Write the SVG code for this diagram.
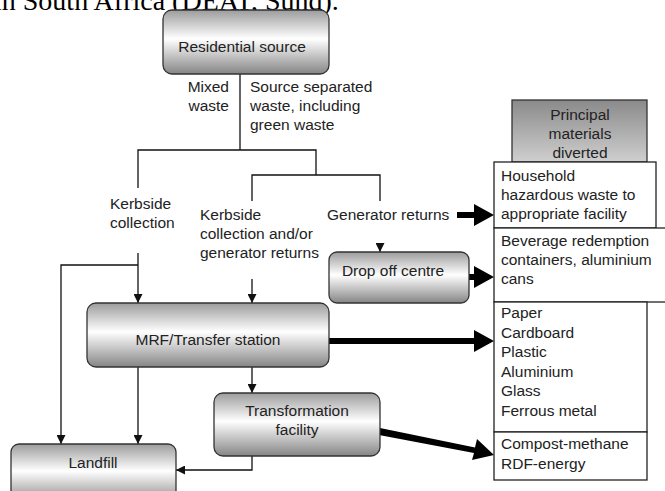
<svg xmlns="http://www.w3.org/2000/svg" width="665" height="491" viewBox="0 0 665 491">
<defs>
<linearGradient id="boxg" x1="0" y1="0" x2="0" y2="1">
<stop offset="0" stop-color="#9c9c9c"/>
<stop offset="0.45" stop-color="#ffffff"/>
<stop offset="1" stop-color="#858585"/>
</linearGradient>
<linearGradient id="headg" x1="0" y1="0" x2="0" y2="1">
<stop offset="0" stop-color="#8a8a8a"/>
<stop offset="1" stop-color="#cfcfcf"/>
</linearGradient>
<marker id="ah" viewBox="0 0 10 10" refX="10" refY="5" markerWidth="9" markerHeight="9" markerUnits="userSpaceOnUse" orient="auto">
<path d="M0,0 L10,5 L0,10 Z" fill="#111"/>
</marker>
</defs>
<style>
.box{fill:url(#boxg);stroke:#333;stroke-width:1.3}
.hbox{fill:url(#headg);stroke:#333;stroke-width:1.3}
.wbox{fill:#fff;stroke:#222;stroke-width:1.3}
.t{font-family:"Liberation Sans",Arial,sans-serif;font-size:15.5px;fill:#222}
.c{text-anchor:middle}
.ln{fill:none;stroke:#111;stroke-width:1.3}
.thick{fill:#000}
</style>
<text x="-6" y="10" font-family="'Liberation Serif','Times New Roman',serif" font-size="28" fill="#000">in South Africa (DEAT, Sund).</text>

<g id="connectors">
<polyline class="ln" points="240,74 240,150"/>
<polyline class="ln" points="138,188 138,150 316,150 316,175"/>
<polyline class="ln" points="252,201 252,175 380,175 380,201"/>
<line class="ln" x1="380" y1="243" x2="380" y2="252" marker-end="url(#ah)"/>
<line class="ln" x1="138" y1="253" x2="138" y2="303" marker-end="url(#ah)"/>
<polyline class="ln" points="138,265 61,265 61,444" marker-end="url(#ah)"/>
<line class="ln" x1="252" y1="279" x2="252" y2="303" marker-end="url(#ah)"/>
<line class="ln" x1="138" y1="367" x2="138" y2="444" marker-end="url(#ah)"/>
<line class="ln" x1="252" y1="367" x2="252" y2="393" marker-end="url(#ah)"/>
<polyline class="ln" points="252,456 252,470 176,470" marker-end="url(#ah)"/>
<polygon class="thick" points="457,212 474,212 474,204 494,215 474,226 474,218 457,218"/>
<polygon class="thick" points="469,274 474,274 474,266 494,277 474,288 474,280 469,280"/>
<polygon class="thick" points="329,338 474,338 474,330 494,341 474,352 474,344 329,344"/>
<polygon class="thick" points="380,428 475,447.5 477,439 494,455 472,460 474,453 379,435"/>
</g>

<g id="residential">
<rect class="box" x="163" y="10" width="166" height="64" rx="9"/>
<text class="t c" x="242" y="52">Residential source</text>
</g>
<g id="labels-top">
<text class="t" x="229" y="92" text-anchor="end">Mixed</text>
<text class="t" x="229" y="111" text-anchor="end">waste</text>
<text class="t" x="250" y="92">Source separated</text>
<text class="t" x="250" y="111">waste, including</text>
<text class="t" x="250" y="130">green waste</text>
</g>
<g id="kerbside">
<text class="t" x="110" y="209">Kerbside</text>
<text class="t" x="110" y="228">collection</text>
</g>
<g id="kerbside-generator">
<text class="t" x="200" y="220">Kerbside</text>
<text class="t" x="200" y="239">collection and/or</text>
<text class="t" x="200" y="258">generator returns</text>
</g>
<g id="generator">
<text class="t" x="327" y="220">Generator returns</text>
</g>
<g id="dropoff">
<rect class="box" x="329" y="252" width="140" height="51" rx="8"/>
<text class="t c" x="393" y="276">Drop off centre</text>
</g>
<g id="mrf">
<rect class="box" x="87" y="303" width="242" height="64" rx="9"/>
<text class="t c" x="208" y="345">MRF/Transfer station</text>
</g>
<g id="transformation">
<rect class="box" x="214" y="393" width="166" height="63" rx="9"/>
<text class="t c" x="297" y="416">Transformation</text>
<text class="t c" x="297" y="435">facility</text>
</g>
<g id="landfill">
<rect class="box" x="11" y="444" width="165" height="60" rx="8"/>
<text class="t c" x="93" y="468">Landfill</text>
</g>
<g id="principal">
<rect class="hbox" x="512" y="100" width="135" height="62"/>
<text class="t c" x="580" y="120">Principal</text>
<text class="t c" x="580" y="139">materials</text>
<text class="t c" x="580" y="158">diverted</text>
</g>
<g id="household">
<rect class="wbox" x="494" y="162" width="162" height="66"/>
<text class="t" x="501" y="181">Household</text>
<text class="t" x="501" y="200">hazardous waste to</text>
<text class="t" x="501" y="219">appropriate facility</text>
</g>
<g id="beverage">
<rect class="wbox" x="494" y="228" width="175" height="74"/>
<text class="t" x="501" y="246">Beverage redemption</text>
<text class="t" x="501" y="265">containers, aluminium</text>
<text class="t" x="501" y="284">cans</text>
</g>
<g id="materials">
<rect class="wbox" x="494" y="302" width="153" height="130"/>
<text class="t" x="501" y="318">Paper</text>
<text class="t" x="501" y="337.5">Cardboard</text>
<text class="t" x="501" y="357">Plastic</text>
<text class="t" x="501" y="376.5">Aluminium</text>
<text class="t" x="501" y="396">Glass</text>
<text class="t" x="501" y="415.5">Ferrous metal</text>
</g>
<g id="compost">
<rect class="wbox" x="494" y="432" width="153" height="48"/>
<text class="t" x="501" y="449">Compost-methane</text>
<text class="t" x="501" y="468.5">RDF-energy</text>
</g>
</svg>
